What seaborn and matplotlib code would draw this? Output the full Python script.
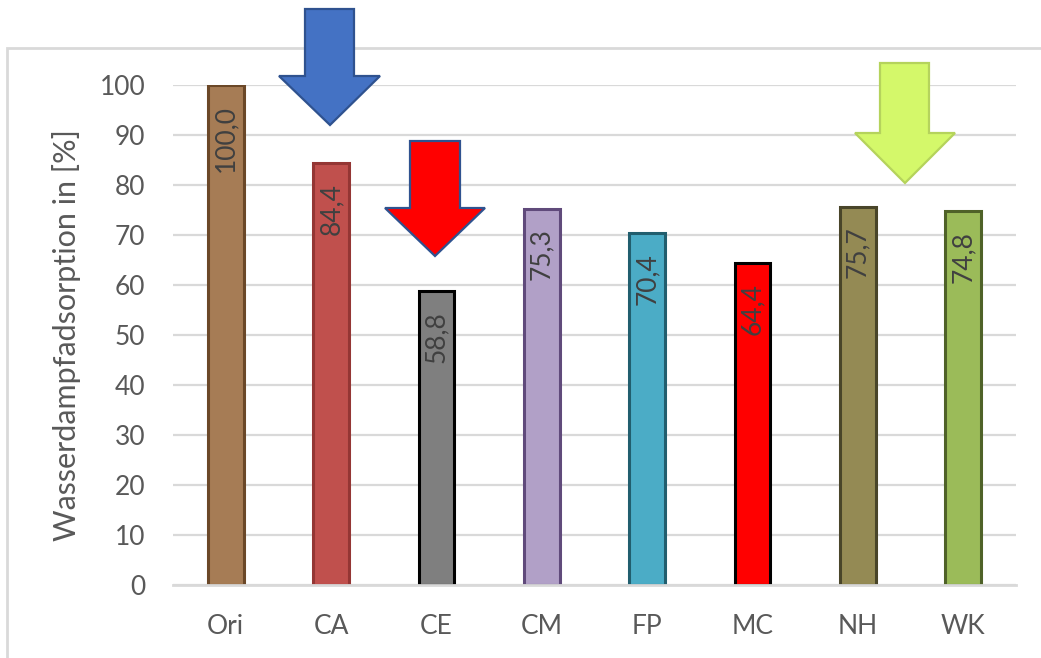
import matplotlib
matplotlib.use("Agg")
import matplotlib.pyplot as plt
from matplotlib.patches import Polygon, Rectangle
import seaborn as sns
import pandas as pd

# Values
categories = ["Ori", "CA", "CE", "CM", "FP", "MC", "NH", "WK"]
values = [100.0, 84.4, 58.8, 75.3, 70.4, 64.4, 75.7, 74.8]
value_labels = ["100,0", "84,4", "58,8", "75,3", "70,4", "64,4", "75,7", "74,8"]
y_ticks = [0, 10, 20, 30, 40, 50, 60, 70, 80, 90, 100]
y_label = "Wasserdampfadsorption in [%]"

fill_colors = ["#A67C55", "#C0504D", "#7F7F7F", "#B1A0C7",
               "#4BACC6", "#FF0000", "#948A54", "#9BBB59"]
edge_colors = ["#6B4828", "#943634", "#000000", "#604A7B",
               "#215E6E", "#000000", "#494529", "#4F6228"]

sns.set_theme(style="white")
plt.rcParams["font.family"] = ["Lato", "DejaVu Sans"]

W, H = 1041, 658
fig = plt.figure(figsize=(W / 100, H / 100), dpi=100)
fig.patch.set_facecolor("white")

# Outer chart frame (extends past the right and bottom edges)
fig.patches.append(Rectangle((7 / W, -0.2), 1.3, 1.2 - 48 / H,
                             transform=fig.transFigure, fill=False,
                             edgecolor="#D9D9D9", linewidth=2.0, zorder=0))

ax = fig.add_axes([173 / W, (H - 585) / H, 843 / W, 500 / H])

df = pd.DataFrame({"cat": categories, "val": values})
sns.barplot(data=df, x="cat", y="val", hue="cat", palette=fill_colors,
            width=0.34, legend=False, ax=ax, zorder=3, saturation=1)

for patch, ec in zip(ax.patches, edge_colors):
    patch.set_edgecolor(ec)
    patch.set_linewidth(2.2)

for i, (v, lab) in enumerate(zip(values, value_labels)):
    ax.text(i, v - 4.0, lab, rotation=90, ha="center", va="top",
            fontsize=19, color="#404040", zorder=5)

ax.set_ylim(0, 100)
ax.set_xlim(-0.5, len(categories) - 0.5)
ax.set_yticks(y_ticks)
ax.yaxis.grid(True, color="#D9D9D9", linewidth=1.6, zorder=0)
ax.set_axisbelow(True)
for side in ["top", "right", "left"]:
    ax.spines[side].set_visible(False)
ax.spines["bottom"].set_color("#D9D9D9")
ax.spines["bottom"].set_linewidth(2.0)
ax.spines["bottom"].set_zorder(4)
ax.tick_params(axis="both", length=0, labelsize=19, colors="#595959")
ax.tick_params(axis="y", pad=20)
ax.tick_params(axis="x", pad=21)
ax.set_xlabel("")
ax.set_ylabel(y_label, fontsize=22, color="#595959", labelpad=13)


def down_arrow(shaft_l, shaft_r, top, shoulder, head_l, head_r, tip_x, tip_y,
               face, edge):
    pts = [(shaft_l, top), (shaft_r, top), (shaft_r, shoulder),
           (head_r, shoulder), (tip_x, tip_y), (head_l, shoulder),
           (shaft_l, shoulder)]
    pts = [(x / W, 1 - y / H) for x, y in pts]
    fig.patches.append(Polygon(pts, closed=True, transform=fig.transFigure,
                               facecolor=face, edgecolor=edge,
                               linewidth=1.6, zorder=10))


down_arrow(305, 354, 9, 76, 279, 380, 330, 125, "#4472C4", "#2F528F")
down_arrow(410, 460, 141, 208, 385, 485, 435, 256, "#FF0000", "#2F528F")
down_arrow(880, 929, 63, 133, 855, 955, 905, 183, "#D4F86A", "#B5D35C")

fig.savefig("out.png", dpi=100)
